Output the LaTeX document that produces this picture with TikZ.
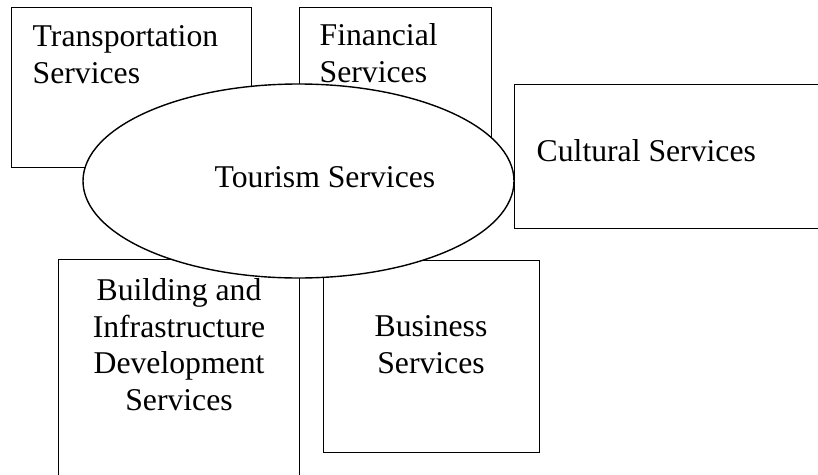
\documentclass[tikz,border=0pt]{standalone}
\usepackage{fontspec}
\setmainfont{Liberation Serif}
\usetikzlibrary{shapes.geometric}

\begin{document}
\begin{tikzpicture}[x=1pt,y=-1pt,line width=1.4pt,
  box/.style={draw,fill=white,inner sep=0pt,anchor=north west},
  lbl/.style={inner sep=0pt,font=\fontsize{31.7}{36.5}\selectfont}]
\useasboundingbox (0,0) rectangle (818,474);
\clip (0,0) rectangle (818,474);
\node[box,minimum width=240,minimum height=160] (transport) at (11,7) {};
\node[box,minimum width=192,minimum height=170] (financial) at (299,7) {};
\node[box,minimum width=241,minimum height=240] (building) at (58,259) {};
\node[box,minimum width=216,minimum height=192] (business) at (323,260) {};
\node[draw,fill=white,ellipse,inner sep=0pt,minimum width=431,minimum height=194] (tourism) at (298.5,181) {};
\node[box,minimum width=320,minimum height=144] (cultural) at (514,84) {};
% base anchor sits on the last line of each label
\node[lbl,anchor=base west,align=left] (transporttxt) at (32,83) {Transportation\\Services};
\node[lbl,anchor=base west,align=left] (financialtxt) at (319,82) {Financial\\Services};
\node[lbl,anchor=base west] (tourismtxt) at (214,187) {Tourism Services};
\node[lbl,anchor=base west] (culturaltxt) at (536,161) {Cultural Services};
\node[lbl,anchor=base,align=center] (buildingtxt) at (179,410) {Building and\\Infrastructure\\Development\\Services};
\node[lbl,anchor=base,align=center] (businesstxt) at (431,373) {Business\\Services};
\end{tikzpicture}
\end{document}
